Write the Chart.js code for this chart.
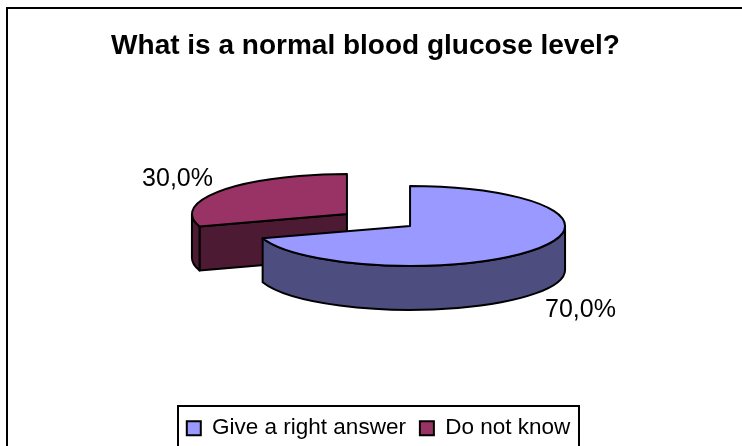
<!DOCTYPE html>
<html>
<head>
<meta charset="utf-8">
<title>What is a normal blood glucose level?</title>
<script src="https://cdn.jsdelivr.net/npm/chart.js@4"></script>
<style>
    html, body { margin: 0; padding: 0; background: #fff; overflow: hidden; }
    canvas { display: block; }
</style>
</head>
<body>
<canvas id="pieChart" width="742" height="446"></canvas>
<script>
const titleText = 'What is a normal blood glucose level?';
const categories = ['Give a right answer', 'Do not know'];
const values = [70, 30];
const topColors = ['#9999ff', '#993366'];
const wallColors = ['#4d4d80', '#4d1a33'];

// fake 3D settings, the pie is squashed and extruded by the plugin below
const pieCenter = { x: 378.5, y: 220 };
const pieRadius = 155;
const squash = 40 / 155;
const depth = 44;
const explode = 39;
const labelNudge = [{ x: 45, y: 61 }, { x: -44, y: -11.5 }];
const legendBox = { left: 178, right: 579, top: 406 };

function percentText(value) {
    const total = values.reduce((a, b) => a + b, 0);
    return (value / total * 100).toFixed(1).replace('.', ',') + '%';
}

// where the apex of a slice lands once it is pulled out along its middle angle
function sliceApex(arc) {
    const mid = (arc.startAngle + arc.endAngle) / 2;
    return {
        x: pieCenter.x + Math.cos(mid) * explode,
        y: pieCenter.y + Math.sin(mid) * explode * squash
    };
}

function rimPoint(apex, angle) {
    return {
        x: apex.x + Math.cos(angle) * pieRadius,
        y: apex.y + Math.sin(angle) * pieRadius * squash
    };
}

function outline(ctx) {
    ctx.lineWidth = 2;
    ctx.lineJoin = 'round';
    ctx.strokeStyle = '#000';
    ctx.fill();
    ctx.stroke();
}

function drawSlice(ctx, arc, index) {
    const apex = sliceApex(arc);
    const r = pieRadius;
    const ry = pieRadius * squash;
    const start = arc.startAngle;
    const end = arc.endAngle;
    ctx.fillStyle = wallColors[index];

    // cut face, only when it looks towards the viewer
    if (start > Math.PI / 2 && start < Math.PI) {
        const tip = rimPoint(apex, start);
        ctx.beginPath();
        ctx.moveTo(apex.x, apex.y);
        ctx.lineTo(tip.x, tip.y);
        ctx.lineTo(tip.x, tip.y + depth);
        ctx.lineTo(apex.x, apex.y + depth);
        ctx.closePath();
        outline(ctx);
    }

    // outer wall, the part of the rim on the front half
    const wallFrom = Math.max(start, 0);
    const wallTo = Math.min(end, Math.PI);
    if (wallTo > wallFrom) {
        ctx.beginPath();
        ctx.ellipse(apex.x, apex.y, r, ry, 0, wallFrom, wallTo);
        ctx.ellipse(apex.x, apex.y + depth, r, ry, 0, wallTo, wallFrom, true);
        ctx.closePath();
        outline(ctx);
    }

    // top surface is the library's own arc, flattened
    ctx.save();
    ctx.translate(apex.x, apex.y);
    ctx.scale(1, squash);
    ctx.translate(-arc.x, -arc.y);
    arc.draw(ctx);
    ctx.restore();

    ctx.beginPath();
    ctx.moveTo(apex.x, apex.y);
    ctx.ellipse(apex.x, apex.y, r, ry, 0, start, end);
    ctx.closePath();
    ctx.lineWidth = 2;
    ctx.lineJoin = 'round';
    ctx.strokeStyle = '#000';
    ctx.stroke();
}

const pie3d = {
    id: 'pie3d',
    afterLayout(chart) {
        // legend sits right of the title's centre, same as the original
        const legend = chart.legend;
        const shift = (legendBox.left + legendBox.right) / 2 - (legend.left + legend.right) / 2;
        legend.left += shift;
        legend.right += shift;
        const h = legend.height;
        legend.top = legendBox.top - 3;
        legend.bottom = legend.top + h;
    },
    beforeDraw(chart) {
        const ctx = chart.ctx;
        ctx.save();
        ctx.lineWidth = 2;
        ctx.strokeStyle = '#000';
        ctx.strokeRect(7, 8, 800, 800);
        ctx.strokeRect(legendBox.left, legendBox.top, legendBox.right - legendBox.left, 100);
        ctx.restore();
    },
    beforeDatasetDraw(chart, args) {
        const ctx = chart.ctx;
        const arcs = chart.getDatasetMeta(args.index).data;
        ctx.save();
        // back slice first so the big one overlaps it
        for (let i = arcs.length - 1; i >= 0; i--) {
            drawSlice(ctx, arcs[i], i);
        }
        ctx.restore();
        return false;
    },
    afterDatasetsDraw(chart) {
        const ctx = chart.ctx;
        const arcs = chart.getDatasetMeta(0).data;
        ctx.save();
        ctx.font = '25px "Liberation Sans"';
        ctx.fillStyle = '#000';
        ctx.textAlign = 'center';
        ctx.textBaseline = 'middle';
        arcs.forEach((arc, i) => {
            const mid = (arc.startAngle + arc.endAngle) / 2;
            const p = rimPoint(sliceApex(arc), mid);
            ctx.fillText(percentText(values[i]), p.x + labelNudge[i].x, p.y + labelNudge[i].y);
        });
        ctx.restore();
    }
};

new Chart(document.getElementById('pieChart'), {
    type: 'pie',
    data: {
        labels: categories,
        datasets: [{
            data: values,
            backgroundColor: topColors,
            borderWidth: 0
        }]
    },
    options: {
        responsive: false,
        animation: false,
        radius: pieRadius,
        layout: { padding: { left: 0, right: 11, top: 29, bottom: 0 } },
        plugins: {
            title: {
                display: true,
                text: titleText,
                color: '#000',
                font: { family: '"Liberation Sans"', size: 28, weight: 'bold' },
                padding: { top: 0, bottom: 0 }
            },
            legend: {
                position: 'bottom',
                labels: {
                    color: '#000',
                    font: { family: '"Liberation Sans"', size: 22.5 },
                    boxWidth: 14,
                    boxHeight: 14,
                    padding: 14,
                    generateLabels(chart) {
                        const items = Chart.overrides.pie.plugins.legend.labels.generateLabels(chart);
                        items.forEach(item => {
                            item.lineWidth = 2;
                            item.strokeStyle = '#000';
                        });
                        return items;
                    }
                }
            },
            tooltip: { enabled: false }
        }
    },
    plugins: [pie3d]
});
</script>
</body>
</html>
